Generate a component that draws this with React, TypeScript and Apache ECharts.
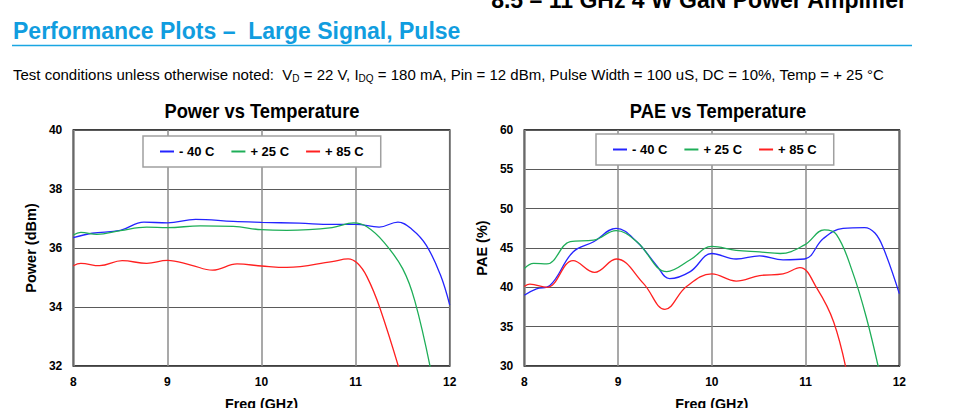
import React, { useEffect, useRef } from "react";
import * as echarts from "echarts";

const FONT = "'Liberation Sans', Arial, sans-serif";

const SERIES_NAMES = ["- 40 C", "+ 25 C", "+ 85 C"];
const SERIES_COLORS = ["#2424ff", "#1eae58", "#ff2020"];

// Power vs Temperature (dBm)
const powerFreqM40 = [8.0, 8.2, 8.5, 8.75, 9.0, 9.3, 9.7, 10.0, 10.4, 10.75, 11.0, 11.25, 11.45, 11.6, 11.75, 11.9, 12.0];
const powerM40 = [36.35, 36.5, 36.6, 36.88, 36.85, 36.97, 36.9, 36.87, 36.84, 36.8, 36.8, 36.71, 36.88, 36.63, 36.1, 35.1, 34.07];
const powerFreqP25 = [8.0, 8.08, 8.25, 8.5, 8.78, 9.0, 9.35, 9.7, 10.0, 10.27, 10.75, 10.98, 11.12, 11.3, 11.5, 11.63, 11.8];
const powerP25 = [36.44, 36.53, 36.46, 36.59, 36.71, 36.69, 36.75, 36.73, 36.62, 36.6, 36.69, 36.85, 36.72, 36.2, 35.3, 34.2, 31.85];
const powerFreqP85 = [8.0, 8.08, 8.28, 8.52, 8.78, 9.0, 9.25, 9.48, 9.74, 10.0, 10.27, 10.75, 10.92, 11.02, 11.12, 11.26, 11.5];
const powerP85 = [35.4, 35.48, 35.4, 35.57, 35.48, 35.58, 35.42, 35.25, 35.46, 35.39, 35.34, 35.54, 35.63, 35.48, 35.03, 33.95, 31.5];

// PAE vs Temperature (%)
const paeFreqM40 = [8.0, 8.13, 8.27, 8.52, 8.74, 8.98, 9.2, 9.41, 9.55, 9.77, 10.0, 10.26, 10.51, 10.76, 10.99, 11.19, 11.4, 11.63, 11.74, 11.83, 12.0];
const paeM40 = [39.0, 39.8, 40.2, 44.5, 45.8, 47.5, 45.8, 42.8, 41.1, 42.0, 44.3, 43.6, 44.0, 43.5, 43.6, 46.2, 47.5, 47.6, 46.9, 45.0, 39.2];
const paeFreqP25 = [8.0, 8.1, 8.24, 8.49, 8.74, 8.98, 9.2, 9.52, 9.77, 10.0, 10.26, 10.51, 10.73, 10.99, 11.2, 11.33, 11.5, 11.65, 11.8];
const paeP25 = [42.4, 43.05, 42.97, 45.8, 46.0, 47.2, 45.8, 42.0, 43.5, 45.2, 44.7, 44.5, 44.3, 45.4, 47.3, 46.7, 42.0, 36.1, 28.6];
const paeFreqP85 = [8.0, 8.06, 8.24, 8.52, 8.75, 8.98, 9.27, 9.5, 9.73, 10.0, 10.26, 10.51, 10.76, 10.94, 11.12, 11.3, 11.45];
const paeP85 = [40.1, 40.4, 40.0, 43.4, 41.9, 43.6, 40.5, 37.2, 40.1, 41.7, 40.8, 41.5, 41.7, 42.5, 39.9, 35.6, 28.6];

const xTicks = { min: 8, max: 12, interval: 1 };
const powerTicks = { min: 32, max: 40, interval: 2 };
const paeTicks = { min: 30, max: 60, interval: 5 };

const HEADER_TOP = "8.5 – 11 GHz 4 W GaN Power Amplifier";
const HEADER_TITLE = "Performance Plots –  Large Signal, Pulse";
const CHART_TITLES = ["Power vs Temperature", "PAE vs Temperature"];
const Y_NAMES = ["Power (dBm)", "PAE (%)"];
const X_NAME = "Freq (GHz)";

const zip = (xs: number[], ys: number[]) => xs.map((x, i) => [x, ys[i]]);

function buildOption() {
  const grids = [
    { left: 73.3, top: 130, width: 376.4, height: 236 },
    { left: 524.3, top: 130, width: 375, height: 236 },
  ];
  const xAxis = grids.map((_, i) => ({
    type: "value",
    gridIndex: i,
    ...xTicks,
    name: X_NAME,
    nameLocation: "middle",
    nameGap: 31,
    nameTextStyle: { fontFamily: FONT, fontWeight: "bold", fontSize: 14.3, color: "#000" },
    axisLine: { show: false },
    axisTick: { show: false },
    axisLabel: { fontFamily: FONT, fontWeight: "bold", fontSize: 12, color: "#000", margin: 10 },
    splitLine: { show: true, lineStyle: { color: "#8c8c8c", width: 1.5 } },
  }));
  const yAxis = [powerTicks, paeTicks].map((t, i) => ({
    type: "value",
    gridIndex: i,
    ...t,
    name: Y_NAMES[i],
    nameLocation: "middle",
    nameGap: 35,
    nameTextStyle: { fontFamily: FONT, fontWeight: "bold", fontSize: 14.5, color: "#000" },
    axisLine: { show: false },
    axisTick: { show: false },
    axisLabel: { fontFamily: FONT, fontWeight: "bold", fontSize: 12, color: "#000", margin: 11 },
    splitLine: { show: true, lineStyle: { color: "#5a5a5a", width: 1 } },
  }));

  const powerData = [
    zip(powerFreqM40, powerM40),
    zip(powerFreqP25, powerP25),
    zip(powerFreqP85, powerP85),
  ];
  const paeData = [
    zip(paeFreqM40, paeM40),
    zip(paeFreqP25, paeP25),
    zip(paeFreqP85, paeP85),
  ];
  const series: any[] = [];
  [powerData, paeData].forEach((set, gi) => {
    set.forEach((data, si) => {
      series.push({
        type: "line",
        name: SERIES_NAMES[si],
        xAxisIndex: gi,
        yAxisIndex: gi,
        data,
        smooth: 0.4,
        symbol: "none",
        clip: true,
        color: SERIES_COLORS[si],
        lineStyle: { width: 1.3, color: SERIES_COLORS[si] },
      });
    });
  });

  const legendBase = {
    data: SERIES_NAMES,
    orient: "horizontal",
    icon: "rect",
    itemWidth: 14,
    itemHeight: 2,
    itemGap: 17,
    padding: [9, 17, 9, 17],
    backgroundColor: "#fff",
    borderColor: "#a0a0a0",
    borderWidth: 1.5,
    borderRadius: 0,
    selectedMode: false,
    textStyle: { fontFamily: FONT, fontWeight: "bold", fontSize: 13, color: "#000" },
  };

  return {
    animation: false,
    backgroundColor: "#fff",
    grid: grids.map((g) => ({
      ...g,
      show: true,
      containLabel: false,
      outerBoundsMode: "none",
      borderColor: "#000",
      borderWidth: 1.5,
      backgroundColor: "transparent",
    })),
    xAxis,
    yAxis,
    legend: [
      { ...legendBase, left: 143, top: 136 },
      { ...legendBase, left: 596, top: 134 },
    ],
    series,
    graphic: [
      {
        type: "text",
        x: 907,
        y: 0,
        style: { text: HEADER_TOP, fontFamily: FONT, fontWeight: "bold", fontSize: 23, fill: "#000", align: "right", verticalAlign: "middle" },
      },
      {
        type: "text",
        x: 13,
        y: 30.5,
        style: { text: HEADER_TITLE, fontFamily: FONT, fontWeight: "bold", fontSize: 23, fill: "#119ddf", align: "left", verticalAlign: "middle" },
      },
      {
        type: "line",
        shape: { x1: 12, y1: 45.5, x2: 912, y2: 45.5 },
        style: { stroke: "#1aa6e2", lineWidth: 1.5 },
      },
      {
        type: "text",
        x: 13,
        y: 74.8,
        style: {
          text:
            "{n|Test conditions unless otherwise noted:  V}{s|D}{n| = 22 V, I}{s|DQ}{n| = 180 mA, Pin = 12 dBm, Pulse Width = 100 uS, DC = 10%, Temp = + 25 °C}",
          fontFamily: FONT,
          fontSize: 15,
          fill: "#000",
          align: "left",
          verticalAlign: "middle",
          rich: {
            n: { fontFamily: FONT, fontSize: 15, lineHeight: 18, fill: "#000", verticalAlign: "middle" },
            s: { fontFamily: FONT, fontSize: 10, lineHeight: 10, fill: "#000", verticalAlign: "bottom" },
          },
        },
      },
      {
        type: "text",
        x: 262,
        y: 111,
        scaleX: 0.94,
        style: { text: CHART_TITLES[0], fontFamily: FONT, fontWeight: "bold", fontSize: 19.5, fill: "#000", align: "center", verticalAlign: "middle" },
      },
      {
        type: "text",
        x: 718,
        y: 111,
        scaleX: 0.94,
        style: { text: CHART_TITLES[1], fontFamily: FONT, fontWeight: "bold", fontSize: 19.5, fill: "#000", align: "center", verticalAlign: "middle" },
      },
    ],
  };
}

export default function App() {
  const ref = useRef<HTMLDivElement>(null);
  useEffect(() => {
    if (!ref.current) return;
    const chart = echarts.init(ref.current, null, { renderer: "svg" });
    chart.setOption(buildOption() as any);
    return () => chart.dispose();
  }, []);
  return (
    <div
      ref={ref}
      style={{ position: "absolute", left: 0, top: 0, width: 955, height: 408, background: "#fff" }}
    />
  );
}
